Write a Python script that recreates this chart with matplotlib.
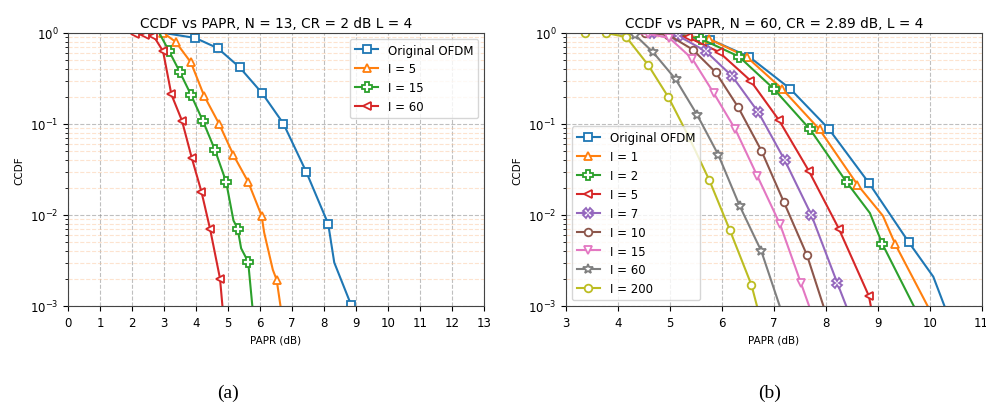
import matplotlib
matplotlib.use('Agg')
import matplotlib.pyplot as plt
import numpy as np

# ---------------- (a) N = 13 ----------------
orig13_x = [3.0, 3.98, 4.68, 5.36, 6.07, 6.73, 7.44, 8.13, 8.32, 8.85, 9.1]
orig13_y = [1.0, 0.88, 0.68, 0.42, 0.217, 0.101, 0.030, 0.008, 0.003, 0.00102, 0.0007]
orig13_mk = [1, 2, 3, 4, 5, 6, 7, 9]

i5_13_x = [2.98, 3.36, 3.84, 4.25, 4.73, 5.17, 5.63, 6.05, 6.13, 6.40, 6.52, 6.68]
i5_13_y = [1.0, 0.80, 0.475, 0.205, 0.099, 0.0455, 0.0231, 0.0098, 0.0064, 0.0025, 0.00194, 0.0008]
i5_13_mk = [0, 1, 2, 3, 4, 5, 6, 7, 10]

i15_13_x = [2.85, 3.15, 3.49, 3.84, 4.22, 4.59, 4.94, 5.17, 5.30, 5.41, 5.63, 5.76, 5.8]
i15_13_y = [1.0, 0.64, 0.375, 0.21, 0.107, 0.052, 0.0232, 0.0087, 0.0071, 0.0043, 0.00305, 0.001, 0.0008]
i15_13_mk = [1, 2, 3, 4, 5, 6, 8, 10]

i60_13_x = [1.95, 2.08, 2.42, 2.67, 2.97, 3.23, 3.56, 3.87, 4.17, 4.44, 4.75, 4.85]
i60_13_y = [1.0, 0.97, 0.95, 0.93, 0.63, 0.211, 0.109, 0.042, 0.018, 0.0070, 0.0020, 0.0008]
i60_13_mk = [1, 2, 3, 4, 5, 6, 7, 8, 9, 10]

# ---------------- (b) N = 60 ----------------
orig60_x = [4.9, 5.05, 5.78, 6.53, 7.31, 8.06, 8.83, 9.60, 10.07, 10.35]
orig60_y = [1.0, 0.99, 0.845, 0.545, 0.245, 0.088, 0.0225, 0.0050, 0.0021, 0.0008]
orig60_mk = [1, 2, 3, 4, 5, 6, 7]

i1_x = [4.9, 5.75, 6.48, 7.16, 7.88, 8.61, 9.10, 9.34, 10.05]
i1_y = [1.0, 0.86, 0.545, 0.243, 0.087, 0.0215, 0.0098, 0.00475, 0.0008]
i1_mk = [1, 2, 3, 4, 5, 7]

i2_x = [4.9, 5.60, 6.33, 7.0, 7.70, 8.40, 8.85, 9.09, 9.78]
i2_y = [1.0, 0.86, 0.55, 0.243, 0.087, 0.023, 0.0105, 0.0048, 0.0008]
i2_mk = [1, 2, 3, 4, 5, 7]

i5_x = [4.7, 5.35, 5.94, 6.55, 7.10, 7.67, 8.25, 8.83, 8.9]
i5_y = [1.0, 0.896, 0.62, 0.30, 0.11, 0.0308, 0.0071, 0.00129, 0.0008]
i5_mk = [1, 2, 3, 4, 5, 6, 7]

i7_x = [4.2, 4.65, 5.15, 5.69, 6.20, 6.70, 7.21, 7.72, 8.22, 8.46]
i7_y = [1.0, 0.99, 0.935, 0.63, 0.334, 0.135, 0.040, 0.0101, 0.0018, 0.0008]
i7_mk = [1, 2, 3, 4, 5, 6, 7, 8]

i10_x = [4.1, 4.52, 4.96, 5.44, 5.88, 6.31, 6.76, 7.19, 7.64, 8.01]
i10_y = [1.0, 0.995, 0.96, 0.656, 0.37, 0.154, 0.051, 0.014, 0.0036, 0.0008]
i10_mk = [1, 2, 3, 4, 5, 6, 7, 8]

i15_x = [4.1, 4.57, 4.99, 5.43, 5.84, 6.26, 6.68, 7.12, 7.52, 7.74]
i15_y = [1.0, 0.98, 0.88, 0.52, 0.22, 0.087, 0.027, 0.0079, 0.0018, 0.0008]
i15_mk = [1, 2, 3, 4, 5, 6, 7, 8]

i60_x = [3.9, 4.32, 4.68, 5.11, 5.52, 5.93, 6.34, 6.76, 7.17]
i60_y = [1.0, 0.96, 0.61, 0.31, 0.127, 0.046, 0.0127, 0.0040, 0.0008]
i60_mk = [1, 2, 3, 4, 5, 6, 7]

i200_x = [3.37, 3.77, 4.16, 4.58, 4.97, 5.37, 5.76, 6.15, 6.57, 6.72]
i200_y = [1.0, 1.0, 0.90, 0.445, 0.197, 0.071, 0.024, 0.0069, 0.0017, 0.0008]
i200_mk = [0, 1, 2, 3, 4, 5, 6, 7, 8]

fig = plt.figure(figsize=(9.87, 4.14), dpi=100)
ax1 = fig.add_axes([0.0689, 0.2585, 0.4215, 0.6595])
ax2 = fig.add_axes([0.5735, 0.2585, 0.421, 0.6595])

lw = 1.5


def curve(ax, x, y, mk, marker, color, label, ms=5.5):
    ax.semilogy(x, y, marker=marker, color=color, lw=lw, ms=ms, mew=1.3,
                mfc='white', markevery=mk, label=label)


curve(ax1, orig13_x, orig13_y, orig13_mk, 's', 'tab:blue', 'Original OFDM')
curve(ax1, i5_13_x, i5_13_y, i5_13_mk, '^', 'tab:orange', 'I = 5')
curve(ax1, i15_13_x, i15_13_y, i15_13_mk, 'P', 'tab:green', 'I = 15', ms=6.5)
curve(ax1, i60_13_x, i60_13_y, i60_13_mk, '<', 'tab:red', 'I = 60')

curve(ax2, orig60_x, orig60_y, orig60_mk, 's', 'tab:blue', 'Original OFDM')
curve(ax2, i1_x, i1_y, i1_mk, '^', 'tab:orange', 'I = 1')
curve(ax2, i2_x, i2_y, i2_mk, 'P', 'tab:green', 'I = 2', ms=6.5)
curve(ax2, i5_x, i5_y, i5_mk, '<', 'tab:red', 'I = 5')
curve(ax2, i7_x, i7_y, i7_mk, 'X', 'tab:purple', 'I = 7', ms=6.5)
curve(ax2, i10_x, i10_y, i10_mk, 'o', 'tab:brown', 'I = 10')
curve(ax2, i15_x, i15_y, i15_mk, 'v', 'tab:pink', 'I = 15')
curve(ax2, i60_x, i60_y, i60_mk, '*', 'tab:gray', 'I = 60', ms=7)
curve(ax2, i200_x, i200_y, i200_mk, 'o', 'tab:olive', 'I = 200')

for ax in (ax1, ax2):
    ax.set_ylim(1e-3, 1)
    ax.grid(True, which='major', ls='--', color='gray', alpha=0.5, lw=0.8)
    ax.grid(True, which='minor', axis='y', ls='--', color='#fcc9a0', alpha=0.5, lw=0.8)
    ax.set_axisbelow(True)
    ax.tick_params(labelsize=8.5)
    ax.set_xlabel('PAPR (dB)', fontsize=7.5)
    ax.set_ylabel('CCDF', fontsize=7.5)
    for s in ax.spines.values():
        s.set_color('#444444')

ax1.set_xlim(0, 13)
ax1.set_xticks(np.arange(0, 14, 1))
ax2.set_xlim(3, 11)
ax2.set_xticks(np.arange(3, 12, 1))

ax1.set_title('CCDF vs PAPR, N = 13, CR = 2 dB L = 4', fontsize=9.8, pad=4)
ax2.set_title('CCDF vs PAPR, N = 60, CR = 2.89 dB, L = 4', fontsize=9.8, pad=4)

ax1.legend(loc='upper right', fontsize=8.5)
ax2.legend(loc='lower left', fontsize=8.5)

fig.text(0.231, 0.04, '(a)', fontsize=14, family='Liberation Serif', ha='center')
fig.text(0.78, 0.04, '(b)', fontsize=14, family='Liberation Serif', ha='center')

plt.savefig('out.png', dpi=100)
